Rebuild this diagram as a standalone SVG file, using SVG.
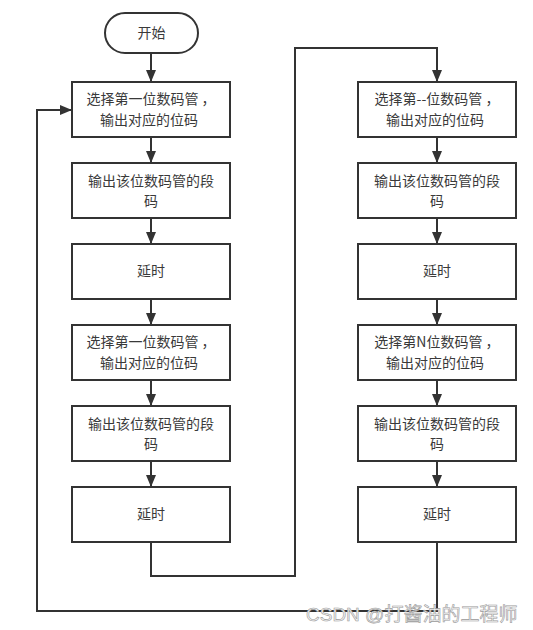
<svg xmlns="http://www.w3.org/2000/svg" width="533" height="630" viewBox="0 0 533 630">
<defs>
<marker id="arr" markerUnits="userSpaceOnUse" markerWidth="12" markerHeight="10" refX="12" refY="5" orient="auto">
<path d="M0,0 L12,5 L0,10 z" fill="#333"/>
</marker>
<style>
.box{fill:#fff;stroke:#333;stroke-width:2}
.t{font-family:"Microsoft YaHei","Noto Sans CJK SC",sans-serif;font-size:14px;fill:#3a3a3a;text-anchor:middle}
.c{fill:none;stroke:#333;stroke-width:2}
.wm{font-family:"Liberation Sans","Noto Sans CJK SC",sans-serif;font-size:19px;fill:#f6f6f6;stroke:#9a9a9a;stroke-width:0.6}
</style>
</defs>
<rect width="533" height="630" fill="#fff"/>
<g id="connectors">
<line class="c" x1="151" y1="53" x2="151" y2="82" marker-end="url(#arr)"/>
<line class="c" x1="151" y1="137" x2="151" y2="163" marker-end="url(#arr)"/>
<line class="c" x1="151" y1="218" x2="151" y2="244" marker-end="url(#arr)"/>
<line class="c" x1="151" y1="299" x2="151" y2="325" marker-end="url(#arr)"/>
<line class="c" x1="151" y1="380" x2="151" y2="406" marker-end="url(#arr)"/>
<line class="c" x1="151" y1="461" x2="151" y2="487" marker-end="url(#arr)"/>
<line class="c" x1="437" y1="137" x2="437" y2="163" marker-end="url(#arr)"/>
<line class="c" x1="437" y1="218" x2="437" y2="244" marker-end="url(#arr)"/>
<line class="c" x1="437" y1="299" x2="437" y2="325" marker-end="url(#arr)"/>
<line class="c" x1="437" y1="380" x2="437" y2="406" marker-end="url(#arr)"/>
<line class="c" x1="437" y1="461" x2="437" y2="487" marker-end="url(#arr)"/>
<polyline class="c" points="151,542 151,576 295,576 295,48 437,48 437,82" marker-end="url(#arr)"/>
<polyline class="c" points="437,542 437,611 37,611 37,110 72,110" marker-end="url(#arr)"/>
</g>
<g id="start">
<rect class="box" x="105" y="13" width="93" height="40" rx="20" ry="20"/>
<text class="t" x="151.5" y="38">开始</text>
</g>
<g id="L1"><rect class="box" x="72" y="82" width="158" height="55"/>
<text class="t" x="151" y="104">选择第一位数码管 ，</text><text class="t" x="149" y="125">输出对应的位码</text></g>
<g id="L2"><rect class="box" x="72" y="163" width="158" height="55"/>
<text class="t" x="151" y="186">输出该位数码管的段</text><text class="t" x="151" y="206">码</text></g>
<g id="L3"><rect class="box" x="72" y="244" width="158" height="55"/>
<text class="t" x="151" y="276">延时</text></g>
<g id="L4"><rect class="box" x="72" y="325" width="158" height="55"/>
<text class="t" x="151" y="347">选择第一位数码管 ，</text><text class="t" x="149" y="368">输出对应的位码</text></g>
<g id="L5"><rect class="box" x="72" y="406" width="158" height="55"/>
<text class="t" x="151" y="429">输出该位数码管的段</text><text class="t" x="151" y="449">码</text></g>
<g id="L6"><rect class="box" x="72" y="487" width="158" height="55"/>
<text class="t" x="151" y="519">延时</text></g>
<g id="R1"><rect class="box" x="358" y="82" width="158" height="55"/>
<text class="t" x="437" y="104">选择第--位数码管 ，</text><text class="t" x="435" y="125">输出对应的位码</text></g>
<g id="R2"><rect class="box" x="358" y="163" width="158" height="55"/>
<text class="t" x="437" y="186">输出该位数码管的段</text><text class="t" x="437" y="206">码</text></g>
<g id="R3"><rect class="box" x="358" y="244" width="158" height="55"/>
<text class="t" x="437" y="276">延时</text></g>
<g id="R4"><rect class="box" x="358" y="325" width="158" height="55"/>
<text class="t" x="437" y="347">选择第N位数码管 ，</text><text class="t" x="435" y="368">输出对应的位码</text></g>
<g id="R5"><rect class="box" x="358" y="406" width="158" height="55"/>
<text class="t" x="437" y="429">输出该位数码管的段</text><text class="t" x="437" y="449">码</text></g>
<g id="R6"><rect class="box" x="358" y="487" width="158" height="55"/>
<text class="t" x="437" y="519">延时</text></g>
<text class="wm" x="306" y="621">CSDN @打酱油的工程师</text>
</svg>
